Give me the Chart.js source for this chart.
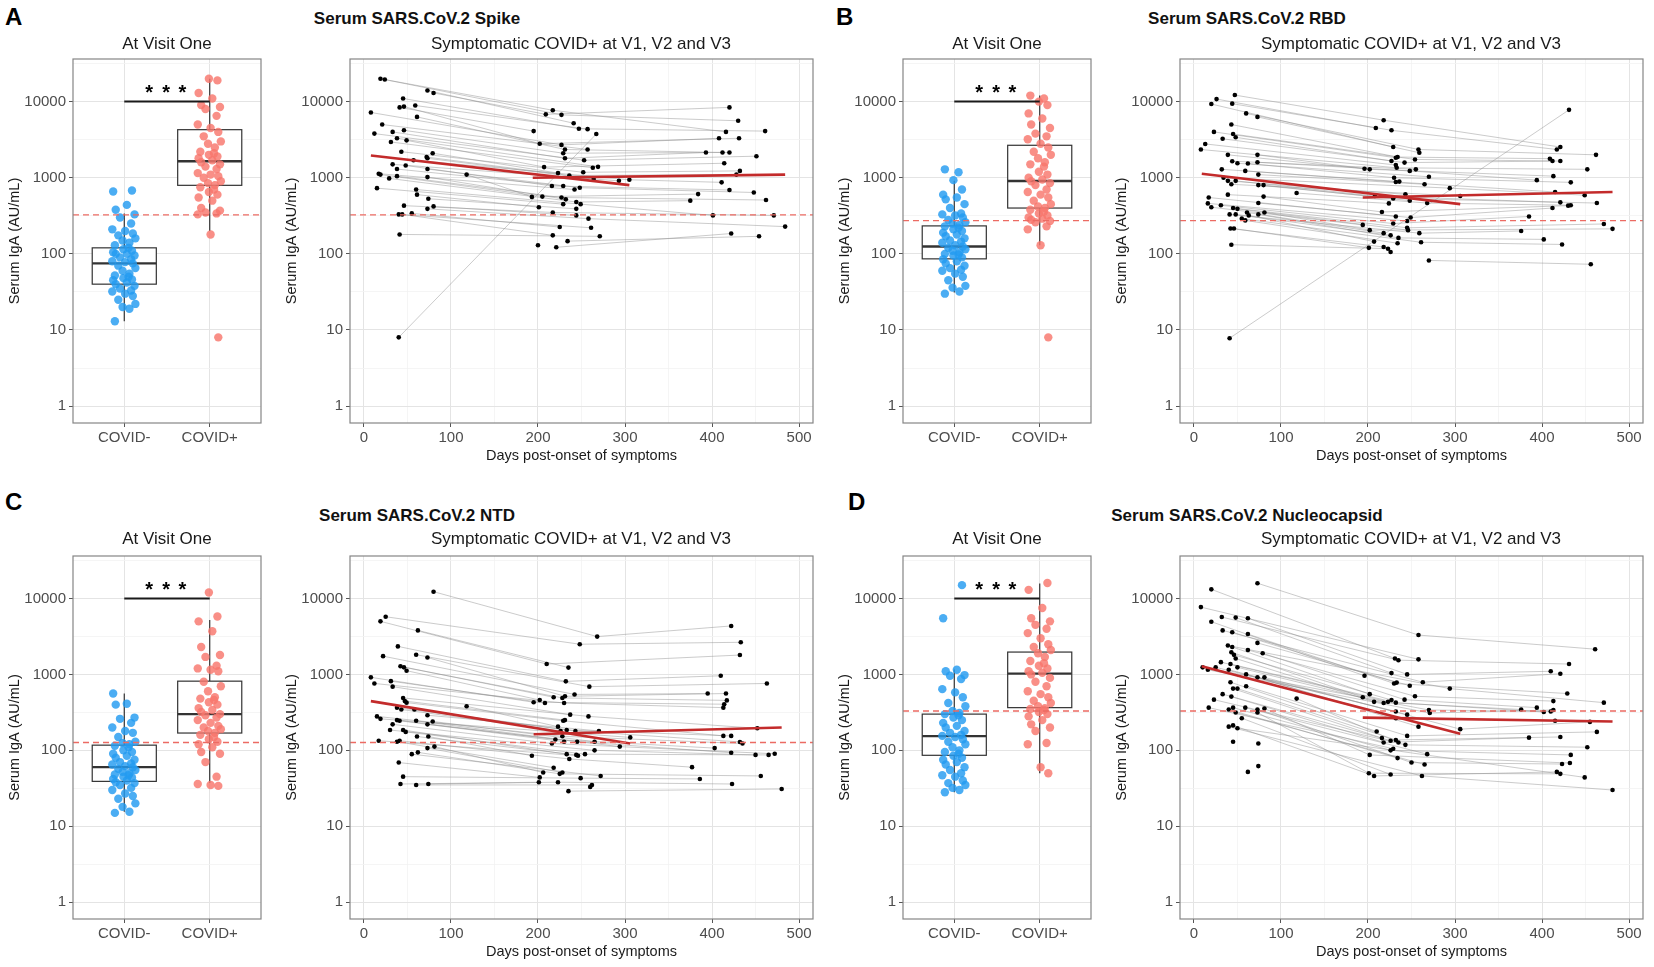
<!DOCTYPE html>
<html>
<head>
<meta charset="utf-8">
<title>Serum IgA</title>
<script src="https://cdn.jsdelivr.net/npm/chart.js@4.4.1/dist/chart.umd.min.js"></script>
<style>
  body { margin:0; width:1654px; height:967px; background:#fff; position:relative; overflow:hidden;
         font-family:"Liberation Sans", Arial, sans-serif; }
  canvas { position:absolute; }
  .t { position:absolute; white-space:nowrap; line-height:1; color:#1a1a1a; }
  .mid { transform:translate(-50%,-50%); }
  .letter { font-size:24px; font-weight:bold; color:#000; }
  .head { font-size:17px; font-weight:bold; color:#111; }
  .sub { font-size:17px; }
</style>
</head>
<body>
<script>
// ---- shared levels ----
const sigLevel = 10000;   // significance bar
const starLevel = 14500;  // "* * *"

// ---- A: Spike ----
const spikeNeg = [13,19,20,22,25,28,30,32,33,35,38,40,42,45,46,48,50,52,55,60,65,70,75,78,80,85,90,95,100,100,105,110,115,120,130,140,150,160,175,185,200,210,250,300,330,380,440,660,680];
const spikePos = [8,180,330,340,350,370,400,500,550,600,650,700,750,800,850,900,1000,1050,1100,1150,1300,1400,1500,1600,1700,1800,1900,2000,2100,2200,2500,2800,3000,3500,4000,4500,5000,6500,8000,8500,9000,11000,13000,19000,20000];
const spikeBoxNeg = [13, 40, 75, 120, 340];      // low whisker, q1, median, q3, high whisker
const spikeBoxPos = [200, 795, 1650, 4280, 20000];
const spikeCut = 325;
const spikeD1 = [19,24,73,80,45,59,46,41,8,61, 21,46,33,12,38,49,31,43,79,72, 73,57,33,48,38,73,17,19,118,38, 73,29,15,60,61,74,46,80,73,55, 40,44,41,40, null,null,null];
const spikeV1 = [20000,19500,14000,13000,11000,8900,8600,8400,7200,6300, 5000,4200,4000,3800,3300,3100,2950,2200,2100,1870, 1800,1700,1500,1450,1300,1300,1130,1100,1100,1050, 1020,980,730,700,600,530,430,420,390,340, 330,330,180,8, null,null,null];
const spikeD2 = [227,217,241,209,247,257,202,195,227,231, 257,229,231,253,269,207,263,252,223,236, 264,305,293,216,229,248,242,205,193,227, 232,244,229,249,201,244,217,244,258,225, 261,217,271,267,234,200,221];
const spikeV2 = [6700,7700,5200,6800,4400,4350,2800,4100,2700,2350, 2350,2100,1800,1700,1390,1380,1350,1180,1150,1070, 960,940,910,780,780,740,700,565,560,550, 520,480,450,450,410,390,350,320,290,225, 220,175,170,3750,147,130,122];
const spikeD3 = [430,416,null,420,461,null,431,null,408,412, null,420,393,451,null,414,null,432,null,428, null,411,null,420,null,448,null,384,null,462, null,375,null,401,null,null,471,null,484,null, null,null,null,null,454,null,422];
const spikeV3 = [5600,4000,null,8400,4100,null,3300,null,3300,2150, null,2150,2150,1920,null,1550,null,1230,null,1100, null,870,null,690,null,640,null,610,null,510, null,500,null,320,null,null,320,null,228,null, null,null,null,null,170,null,185];
const spikeFit1 = [[8,1960],[305,800]];
const spikeFit2 = [[194,1000],[484,1100]];

// ---- B: RBD ----
const rbdNeg = [30,32,36,38,45,50,55,60,62,65,70,75,80,85,90,95,98,100,105,110,115,120,125,130,140,145,150,160,170,180,190,200,210,220,230,240,250,260,280,300,320,330,340,400,450,520,550,600,700,930,1180,1290];
const rbdPos = [8,130,210,230,260,270,280,290,300,320,340,360,380,400,420,450,500,550,600,650,700,800,850,900,950,1000,1100,1200,1400,1500,1600,1800,2000,2200,2500,2800,3200,3500,3800,4500,5000,6000,7000,9000,10000,11000,12000];
const rbdBoxNeg = [31, 86, 125, 233, 910];
const rbdBoxPos = [130, 400, 908, 2670, 12000];
const rbdCut = 273;
const rbdD1 = [47,26,44,20,60,73,43,23,45,48, 33,13,8,39,73,44,73,50,62,32, 59,74,34,39,48,43,74,80,118,39, 80,17,74,16,31,20,45,50,81,61, 41,48,74,63,55,59,42,46,43,41, null,null];
const rbdV1 = [12200,10800,9400,9300,7000,6300,5000,4000,3750,3400, 3250,2780,2350,2000,2000,1650,1600,1550,1540,1290, 1230,1100,1000,910,910,820,800,800,630,600, 565,550,465,460,435,410,400,390,350,350, 330,330,330,320,290,275,215,215,132,7.8, null,null];
const rbdD2 = [218,209,227,229,258,259,234,232,254,227, 242,232,233,196,202,255,248,270,230,236, 232,265,294,243,208,306,229,248,268,224, 216,232,249,245,229,194,245,246,202,218, 259,226,235,207,261,234,218,201,223,null, 226,270];
const rbdV2 = [5700,4500,4200,2530,2350,2130,1870,1830,1740,1660, 1580,1470,1350,1310,1290,1290,1230,1030,1000,890, 880,820,730,605,575,575,535,500,465,460, 355,310,300,270,250,240,220,205,205,187, 187,175,162,145,142,138,123,120,117,null, 106,82];
const rbdD3 = [421,null,417,null,462,null,409,null,412,null, 421,null,452,null,413,null,394,null,433,null, 415,null,449,null,421,null,463,null,433,null, 430,null,412,null,385,null,471,null,481,null, 376,null,402,null,423,null,null,null,null,431, null,456];
const rbdV3 = [2530,null,2350,null,2000,null,1780,null,1660,null, 1660,null,1290,null,1050,null,930,null,870,null, 650,null,590,null,475,null,465,null,435,null, 430,null,400,null,310,null,247,null,213,null, 200,null,155,null,133,null,null,null,null,7800, null,73];
const rbdFit1 = [[9,1130],[306,450]];
const rbdFit2 = [[194,550],[481,650]];

// ---- C: NTD ----
const ntdNeg = [15,15.5,18,20,23,25,27,30,32,35,37,38,40,42,44,45,47,48,50,52,55,57,60,62,65,67,70,75,80,85,90,95,100,110,115,120,125,130,150,170,180,200,230,260,270,400,410,560];
const ntdPos = [34,35,36,45,70,90,95,110,120,130,140,150,160,170,180,190,200,210,230,250,270,290,300,320,340,360,400,430,460,480,500,600,700,800,1100,1150,1200,1300,1700,1800,2300,3700,5000,5800,12000];
const ntdBoxNeg = [15.5, 39, 60, 117, 560];
const ntdBoxPos = [37, 169, 300, 815, 5200];
const ntdCut = 127;
const ntdD1 = [80,25,19,62,39,60,22,73,42,46, 49,8,31,12,33,45,47,49,118,38, 43,58,73,15,19,38,41,60,79,33, 73,30,45,48,61,74,17,41,38,81, 73,62,55,40,45,42,74,60, null,null];
const ntdV1 = [12300,5750,5000,3800,2340,1820,1740,1670,1280,1240, 1120,915,815,760,690,490,445,425,380,365, 345,345,290,280,260,250,245,245,240,220, 220,185,185,175,152,152,134,134,130,112, 107,94,89,69,45,36,36,35, null,null];
const ntdD2 = [268,248,210,235,232,259,242,231,218,228, 202,195,208,230,237,258,231,229,223,233, 226,243,270,228,306,220,230,245,265,216, 294,265,233,254,244,193,246,236,218,206, 228,225,272,202,249,201,223,262,260,235];
const ntdV2 = [3150,2500,1370,1230,810,690,545,515,500,490, 460,430,420,420,295,280,250,245,205,185, 180,180,180,153,148,139,130,130,130,123, 112,100,89,89,87,85,85,77,59,51, 51,49,46,44,43,38,38,35,33,29];
const ntdD3 = [422,433,432,null,410,463,395,416,null,417, null,414,null,413,null,452,null,413,null,422, null,432,null,435,null,403,null,422,null,472, null,450,null,465,null,null,null,377,null,null, null,456,null,null,386,null,423,null,null,480];
const ntdV3 = [4350,2650,1800,null,960,760,560,560,null,455, null,405,null,365,null,195,null,155,null,155, null,129,null,123,null,107,null,93,null,90, null,87,null,87,null,null,null,60,null,null, null,46,null,null,42,null,36,null,null,31];
const ntdFit1 = [[8,445],[306,123]];
const ntdFit2 = [[195,163],[480,200]];

// ---- D: Nucleocapsid ----
const ncNeg = [28,30,32,35,37,40,45,47,50,55,60,65,70,75,80,85,90,95,100,110,120,130,140,150,155,160,170,180,200,210,230,250,270,290,300,310,330,380,420,500,580,640,870,960,980,1100,1150,5500,15000];
const ncPos = [50,60,120,125,180,200,220,250,280,300,320,340,350,360,380,420,450,500,550,600,700,800,900,1000,1050,1100,1200,1300,1400,1500,1700,1900,2100,2300,2500,3000,3500,4000,4500,5000,5500,7500,13000,16000];
const ncBoxNeg = [28, 86, 154, 300, 1160];
const ncBoxPos = [50, 365, 1025, 1970, 15800];
const ncCut = 330;
const ncD1 = [73,20,8,32,48,62,20,33,44,62, 73,39,44,62,43,79,46,48,31,42, 50,10,25,16,40,60,73,81,42,60, 45,50,33,43,118,23,17,45,59,81, 40,73,48,73,55,45,40,50,45,74, 74,62];
const ncV1 = [15900,13200,7700,5700,5600,5500,4950,3800,3600,3400, 2600,2400,2300,2100,1960,1900,1810,1620,1450,1370, 1240,1240,1240,1150,1150,1000,915,915,790,700, 650,650,550,510,480,465,365,365,365,355, 345,345,315,315,265,213,205,195,130,123, 62,52];
const ncD2 = [258,231,258,235,227,245,196,263,233,230, 248,294,202,254,194,242,227,207,223,232, 218,270,232,271,245,232,258,306,210,245, 216,232,226,218,235,243,229,226,268,202, 234,250,265,201,226,207,262, null,null,null, null,null];
const ncV2 = [3300,1620,1580,1540,1040,1000,960,790,780,760, 710,650,550,515,500,465,460,435,435,425, 420,340,325,310,295,265,205,190,177,155, 145,137,134,127,127,118,105,100,89,87, 79,69,65,50,48,46,46, null,null,null, null,null];
const ncD3 = [461,null,null,431,null,410,null,421,null,429, null,471,null,413,null,394,null,376,null,402, null,410,null,413,null,415,null,455,null,463, null,421,null,385,null,452,null,433,null,432, null,423,null,421,null,417,481,449,null,null, null,null];
const ncV3 = [2150,null,null,1370,null,1100,null,1020,null,560, null,425,null,445,null,365,null,345,null,320, null,325,null,340,null,245,null,237,null,175, null,150,null,147,null,110,null,87,null,68, null,66,null,49,null,52,30,44,null,null, null,null];
const ncFit1 = [[9,1280],[306,165]];
const ncFit2 = [[194,270],[481,240]];

// ---- axis tick values ----
const yMajor = [1, 10, 100, 1000, 10000];
const yTicks = [1, 3.162, 10, 31.62, 100, 316.2, 1000, 3162, 10000, 31623];
const dayTicks = [0, 50, 100, 150, 200, 250, 300, 350, 400, 450, 500];
const groups = ['COVID-', 'COVID+'];

// ---- layout ----
const rowTop = [47, 544];
const rowH = [421, 420];
const headY = [18, 515];
const subY = [43, 538];
const letterTop = [5, 490];
const jitter = [-0.11,0.06,-0.02,0.13,-0.07,0.10,0.01,-0.14,0.08,-0.05,0.12,-0.10,0.03,-0.13,0.09,-0.01,0.05];

Chart.defaults.font.family = '"Liberation Sans", Arial, sans-serif';

function addCanvas(left, top, w, h) {
    const c = document.createElement('canvas');
    c.width = w; c.height = h;
    c.style.left = left + 'px'; c.style.top = top + 'px';
    c.style.width = w + 'px'; c.style.height = h + 'px';
    document.body.appendChild(c);
    return c;
}

function addText(txt, x, y, cls) {
    const d = document.createElement('div');
    d.className = 't ' + cls;
    d.textContent = txt;
    d.style.left = x + 'px'; d.style.top = y + 'px';
    document.body.appendChild(d);
}

const common = {
    responsive: false,
    animation: false,
    layout: { padding: { top: 10, right: 8, left: 0, bottom: 0 } },
    plugins: { legend: { display: false }, tooltip: { enabled: false } }
};

function yScale() {
    const maj = c => c.tick && yMajor.includes(c.tick.value);
    return {
        type: 'logarithmic', min: 0.619, max: 36300,
        afterBuildTicks: s => { s.ticks = yTicks.map(v => ({ value: v })); },
        afterFit: s => { s.width = 73; },
        ticks: { autoSkip: false, color: '#4d4d4d', font: { size: 15 }, padding: 3,
                 callback: v => yMajor.includes(v) ? String(v) : '' },
        grid: { color: c => maj(c) ? '#e4e4e4' : '#f2f2f2',
                lineWidth: c => maj(c) ? 1 : 0.8,
                tickColor: c => maj(c) ? '#555' : 'rgba(0,0,0,0)',
                tickLength: 4 },
        border: { display: false },
        title: { display: true, text: 'Serum IgA (AU/mL)', color: '#1a1a1a',
                 font: { size: 14.5 }, padding: { top: 6, bottom: 0 } }
    };
}

function xDays() {
    const maj = c => c.tick && c.tick.value % 100 === 0;
    return {
        type: 'linear', min: -16, max: 516,
        afterBuildTicks: s => { s.ticks = dayTicks.map(v => ({ value: v })); },
        afterFit: s => { s.height = 45; },
        ticks: { autoSkip: false, maxRotation: 0, color: '#4d4d4d', font: { size: 15 }, padding: 2,
                 callback: v => v % 100 === 0 ? String(v) : '' },
        grid: { color: c => maj(c) ? '#e4e4e4' : '#f2f2f2',
                lineWidth: c => maj(c) ? 1 : 0.8,
                tickColor: c => maj(c) ? '#555' : 'rgba(0,0,0,0)',
                tickLength: 4 },
        border: { display: false },
        title: { display: true, text: 'Days post-onset of symptoms', color: '#1a1a1a',
                 font: { size: 14.5 }, padding: { top: 0, bottom: 3 } }
    };
}

function xGroups() {
    return {
        type: 'linear', min: 0.4, max: 2.6,
        afterBuildTicks: s => { s.ticks = [{ value: 1 }, { value: 2 }]; },
        afterFit: s => { s.height = 45; },
        ticks: { autoSkip: false, maxRotation: 0, color: '#4d4d4d', font: { size: 15 }, padding: 2,
                 callback: v => groups[v - 1] },
        grid: { color: '#e4e4e4', tickColor: '#555', tickLength: 4 },
        border: { display: false }
    };
}

// panel border on all four sides
const framePlugin = {
    id: 'frame',
    afterDatasetsDraw(chart) {
        const { ctx, chartArea: a } = chart;
        ctx.save();
        ctx.strokeStyle = '#858585';
        ctx.lineWidth = 1.2;
        ctx.strokeRect(a.left, a.top, a.right - a.left, a.bottom - a.top);
        ctx.restore();
    }
};

// box + whiskers from the stats arrays
function boxPlugin(stats) {
    return {
        id: 'boxes',
        beforeDatasetsDraw(chart) {
            const { ctx, scales: { x, y } } = chart;
            ctx.save();
            stats.forEach((s, i) => {
                const c = i + 1;
                const xl = x.getPixelForValue(c - 0.375);
                const xr = x.getPixelForValue(c + 0.375);
                const xm = x.getPixelForValue(c);
                const [lo, q1, med, q3, hi] = s.map(v => y.getPixelForValue(v));
                ctx.strokeStyle = '#333';
                ctx.lineWidth = 1.2;
                ctx.beginPath();
                ctx.moveTo(xm, q3); ctx.lineTo(xm, hi);
                ctx.moveTo(xm, q1); ctx.lineTo(xm, lo);
                ctx.stroke();
                ctx.fillStyle = '#fff';
                ctx.fillRect(xl, q3, xr - xl, q1 - q3);
                ctx.strokeRect(xl, q3, xr - xl, q1 - q3);
                ctx.lineWidth = 2.4;
                ctx.beginPath();
                ctx.moveTo(xl, med); ctx.lineTo(xr, med);
                ctx.stroke();
            });
            ctx.restore();
        }
    };
}

const starPlugin = {
    id: 'stars',
    afterDatasetsDraw(chart) {
        const { ctx, scales: { x, y } } = chart;
        ctx.save();
        ctx.fillStyle = '#000';
        ctx.font = 'bold 20px "Liberation Sans", Arial, sans-serif';
        ctx.textAlign = 'center';
        ctx.textBaseline = 'middle';
        const py = y.getPixelForValue(starLevel) + 4;
        [1.29, 1.49, 1.68].forEach(v => ctx.fillText('*', x.getPixelForValue(v), py));
        ctx.restore();
    }
};

function boxChart(p) {
    const cv = addCanvas(p.boxLeft, rowTop[p.row], 269, rowH[p.row]);
    const negPts = p.neg.map((v, i) => ({ x: 1 + jitter[i % jitter.length], y: v }));
    const posPts = p.pos.map((v, i) => ({ x: 2 + jitter[(i + 5) % jitter.length], y: v }));
    new Chart(cv, {
        type: 'scatter',
        data: { datasets: [
            { data: [{ x: 0.4, y: p.cut }, { x: 2.6, y: p.cut }], showLine: true, borderColor: '#ec6b63',
              borderWidth: 1.4, borderDash: [6, 4], pointRadius: 0, order: 1 },
            { data: [{ x: 1, y: sigLevel }, { x: 2, y: sigLevel }], showLine: true, borderColor: '#1a1a1a',
              borderWidth: 2, pointRadius: 0, order: 2 },
            { data: negPts, backgroundColor: 'rgba(35,155,240,0.82)', pointRadius: 4.2, pointBorderWidth: 0, order: 3 },
            { data: posPts, backgroundColor: 'rgba(248,118,109,0.82)', pointRadius: 4.2, pointBorderWidth: 0, order: 3 }
        ] },
        options: { ...common, scales: { x: xGroups(), y: yScale() } },
        plugins: [boxPlugin([p.boxNeg, p.boxPos]), starPlugin, framePlugin]
    });
}

function lineChart(p) {
    const cv = addCanvas(p.lineLeft, rowTop[p.row], 544, rowH[p.row]);
    const sets = [];
    const dots = [];
    p.d1.forEach((_, i) => {
        const pts = [[p.d1[i], p.v1[i]], [p.d2[i], p.v2[i]], [p.d3[i], p.v3[i]]]
            .filter(q => q[0] != null && q[1] != null)
            .map(q => ({ x: q[0], y: q[1] }));
        dots.push(...pts);
        if (pts.length > 1) {
            sets.push({ data: pts, showLine: true, borderColor: 'rgba(140,140,140,0.45)', borderWidth: 1,
                        pointRadius: 0, order: 10 });
        }
    });
    sets.push({ data: dots, backgroundColor: '#000', pointRadius: 2.3, pointBorderWidth: 0, order: 3 });
    [p.fit1, p.fit2].forEach(f => sets.push({
        data: f.map(q => ({ x: q[0], y: q[1] })), showLine: true, borderColor: '#c32b2b',
        borderWidth: 2.6, pointRadius: 0, order: 2 }));
    sets.push({ data: [{ x: -16, y: p.cut }, { x: 516, y: p.cut }], showLine: true, borderColor: '#ec6b63',
                borderWidth: 1.4, borderDash: [6, 4], pointRadius: 0, order: 1 });
    new Chart(cv, {
        type: 'scatter',
        data: { datasets: sets },
        options: { ...common, scales: { x: xDays(), y: yScale() } },
        plugins: [framePlugin]
    });
}

const panels = [
    { letter: 'A', letterX: 5, head: 'Serum SARS.CoV.2 Spike', row: 0, boxLeft: 0, lineLeft: 277, headX: 417,
      neg: spikeNeg, pos: spikePos, boxNeg: spikeBoxNeg, boxPos: spikeBoxPos, cut: spikeCut,
      d1: spikeD1, v1: spikeV1, d2: spikeD2, v2: spikeV2, d3: spikeD3, v3: spikeV3, fit1: spikeFit1, fit2: spikeFit2 },
    { letter: 'B', letterX: 836, head: 'Serum SARS.CoV.2 RBD', row: 0, boxLeft: 830, lineLeft: 1107, headX: 1247,
      neg: rbdNeg, pos: rbdPos, boxNeg: rbdBoxNeg, boxPos: rbdBoxPos, cut: rbdCut,
      d1: rbdD1, v1: rbdV1, d2: rbdD2, v2: rbdV2, d3: rbdD3, v3: rbdV3, fit1: rbdFit1, fit2: rbdFit2 },
    { letter: 'C', letterX: 5, head: 'Serum SARS.CoV.2 NTD', row: 1, boxLeft: 0, lineLeft: 277, headX: 417,
      neg: ntdNeg, pos: ntdPos, boxNeg: ntdBoxNeg, boxPos: ntdBoxPos, cut: ntdCut,
      d1: ntdD1, v1: ntdV1, d2: ntdD2, v2: ntdV2, d3: ntdD3, v3: ntdV3, fit1: ntdFit1, fit2: ntdFit2 },
    { letter: 'D', letterX: 848, head: 'Serum SARS.CoV.2 Nucleocapsid', row: 1, boxLeft: 830, lineLeft: 1107, headX: 1247,
      neg: ncNeg, pos: ncPos, boxNeg: ncBoxNeg, boxPos: ncBoxPos, cut: ncCut,
      d1: ncD1, v1: ncV1, d2: ncD2, v2: ncV2, d3: ncD3, v3: ncV3, fit1: ncFit1, fit2: ncFit2 }
];

panels.forEach(p => {
    boxChart(p);
    lineChart(p);
    addText(p.letter, p.letterX, letterTop[p.row], 'letter');
    addText(p.head, p.headX, headY[p.row], 'head mid');
    addText('At Visit One', p.boxLeft + 167, subY[p.row], 'sub mid');
    addText('Symptomatic COVID+ at V1, V2 and V3', p.lineLeft + 304, subY[p.row], 'sub mid');
});
</script>
</body>
</html>
